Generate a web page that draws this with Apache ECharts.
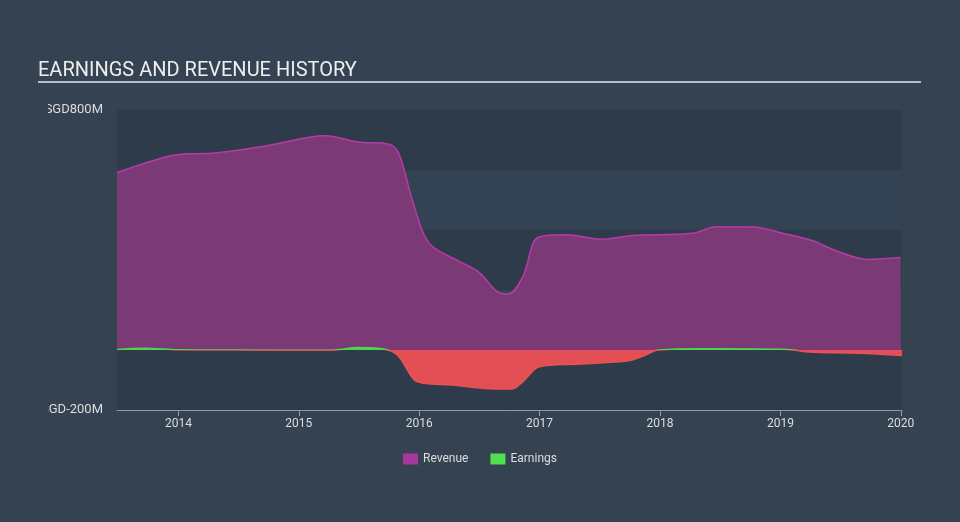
<!DOCTYPE html>
<html>
<head>
<meta charset="utf-8">
<script src="https://cdn.jsdelivr.net/npm/echarts@6/dist/echarts.min.js"></script>
<style>
html,body{margin:0;padding:0;background:#344252;}
#c{width:960px;height:522px;}
</style>
</head>
<body>
<div id="c"></div>
<script>
// Data (years as decimals, values in SGD millions)
var revenueYears = [2013.49,2013.90,2014.08,2014.24,2014.72,2015.22,2015.49,2015.74,2015.83,2015.95,2016.08,2016.31,2016.49,2016.65,2016.74,2016.86,2016.99,2017.22,2017.52,2017.77,2018.27,2018.47,2018.77,2019.04,2019.27,2019.45,2019.73,2020.0];
var revenueValues = [591,644,654,655,680,714,693,687,656,490,357,300,261,194,187,244,376,384,369,382,389,411,410,387,364,333,302,308];
var earningsYears = [2013.49,2013.72,2014.0,2014.5,2015.0,2015.3,2015.49,2015.74,2015.83,2015.96,2016.04,2016.27,2016.54,2016.77,2016.86,2017.0,2017.33,2017.74,2017.85,2017.99,2018.37,2019.06,2019.24,2019.65,2020.01];
var earningsValues = [2,6,1,0,-1,0,8,0,-22,-100,-111,-117,-128,-130,-106,-56,-47,-36,-22,0,4,2,-7,-11,-18];
var xTickYears = [2014,2015,2016,2017,2018,2019,2020];
var yLabelValues = [800,-200];

function pairs(xs, ys){ return xs.map(function(x,i){ return [x, ys[i]]; }); }

var chart = echarts.init(document.getElementById('c'), null, {renderer:'canvas'});
chart.setOption({
  backgroundColor: '#344252',
  animation: false,
  title: {
    text: 'EARNINGS AND REVENUE HISTORY',
    left: 33, top: 56,
    textStyle: {color:'#eeeeee', fontFamily:'Roboto', fontSize:20, fontWeight:'normal'}
  },
  graphic: [
    {type:'line', shape:{x1:38,y1:82,x2:921,y2:82}, style:{stroke:'#b8bec6', lineWidth:2}, z:10},
    {type:'rect', shape:{x:0,y:95,width:48,height:330}, style:{fill:'#344252'}, z:100}
  ],
  legend: {
    bottom: 52, left: 'center',
    itemWidth: 15, itemHeight: 11, itemGap: 22,
    textStyle: {color:'#dddddd', fontFamily:'Roboto', fontSize:12},
    data: [
      {name:'Revenue', icon:'rect', itemStyle:{color:'#a7369f'}},
      {name:'Earnings', icon:'rect', itemStyle:{color:'#4fe04f'}}
    ]
  },
  grid: {left:117, right:58, top:110, bottom:112, show:true, backgroundColor:'#2e3b4b', borderWidth:0},
  xAxis: {
    type:'value', min:2013.49, max:2020.01,
    axisLine:{show:true, onZero:false, lineStyle:{color:'#8d9aa8', width:1}},
    axisTick:{show:true, customValues:xTickYears, length:6, lineStyle:{color:'#8d9aa8'}},
    axisLabel:{customValues:xTickYears, color:'#dddddd', fontFamily:'Roboto', fontSize:12, margin:8,
      formatter:function(v){ return String(Math.round(v)); }},
    splitLine:{show:false}
  },
  yAxis: {
    type:'value', min:-200, max:800, interval:200,
    axisLine:{show:false}, axisTick:{show:false},
    axisLabel:{color:'#dddddd', fontFamily:'Roboto', fontSize:13, margin:14,
      formatter:function(v){ return yLabelValues.indexOf(v) >= 0 ? 'SGD' + v + 'M' : ''; }},
    splitLine:{show:false},
    splitArea:{show:true, areaStyle:{color:['#2e3b4b','#334354']}}
  },
  visualMap: {
    show:false, type:'piecewise', seriesIndex:1, dimension:1,
    pieces:[{min:0, max:1000, color:'#4fd84f'}, {min:-1000, max:0, color:'#eb5055'}]
  },
  series: [
    {
      name:'Revenue', type:'line', smooth:0.35, symbol:'none',
      data: pairs(revenueYears, revenueValues),
      lineStyle:{color:'#b83aa8', width:1.5},
      itemStyle:{color:'#a7369f'},
      areaStyle:{color:'#7b3a75', opacity:1},
      z:2
    },
    {
      name:'Earnings', type:'line', smooth:0.35, symbol:'none',
      data: pairs(earningsYears, earningsValues),
      lineStyle:{width:1.5},
      itemStyle:{color:'#4fe04f'},
      areaStyle:{opacity:0.95},
      z:3
    }
  ]
});
</script>
</body>
</html>
